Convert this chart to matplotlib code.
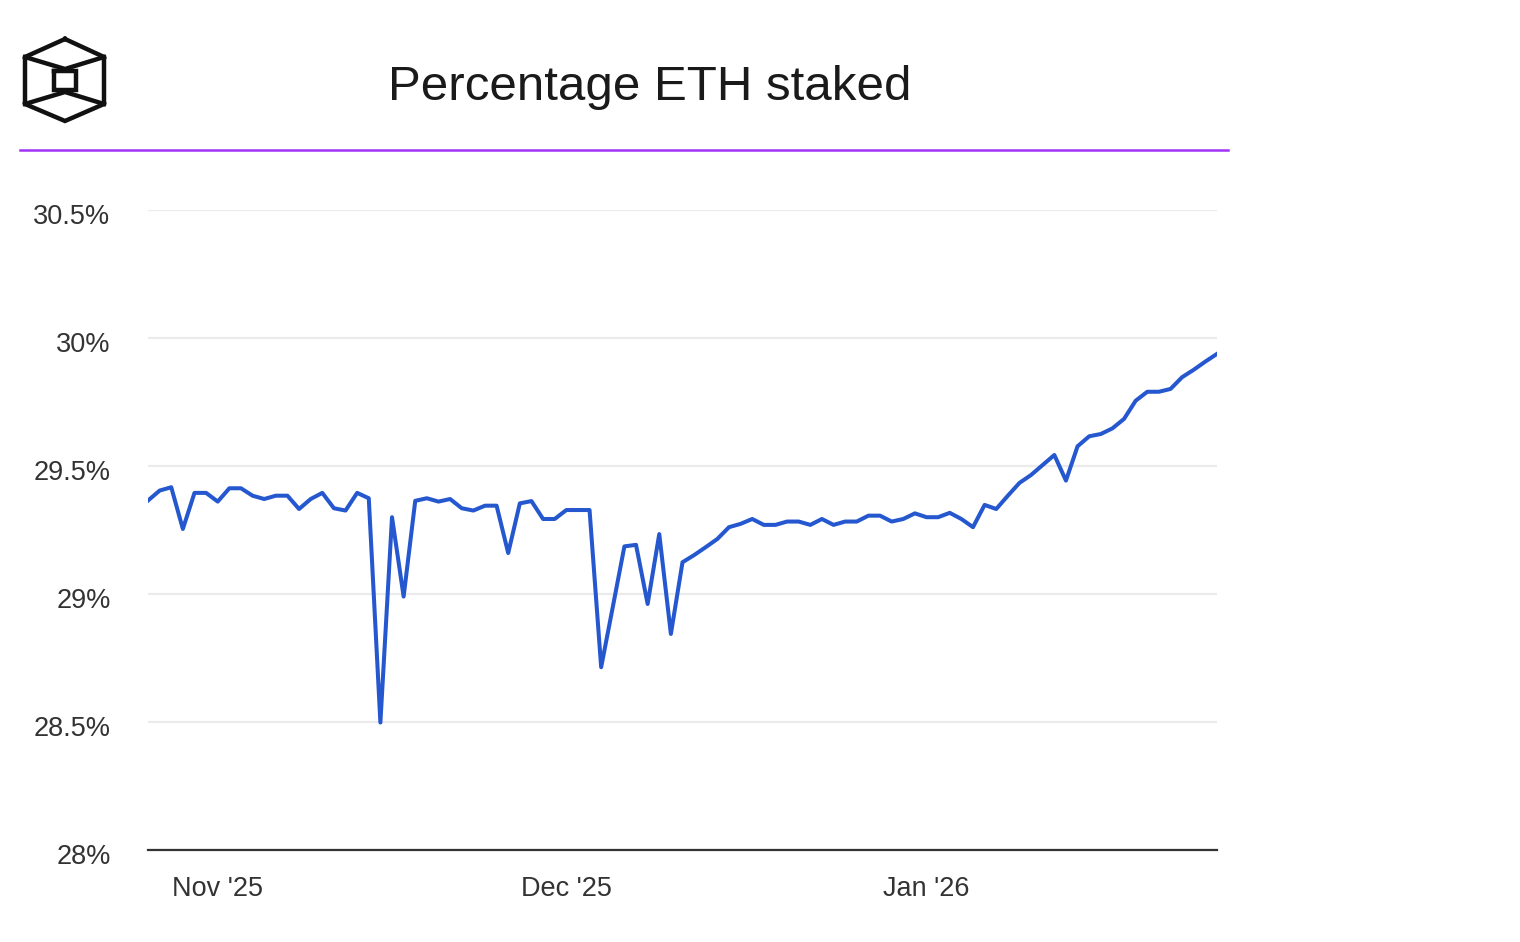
import pandas as pd
import matplotlib.pyplot as plt
import matplotlib.dates as mdates
from matplotlib.lines import Line2D
from matplotlib.ticker import FixedLocator, FuncFormatter
from matplotlib.transforms import ScaledTranslation

plt.rcParams['font.family'] = ['Liberation Sans', 'DejaVu Sans']

# daily series, Oct 26 2025 .. Jan 26 2026
dates = pd.date_range('2025-10-26', '2026-01-26', freq='D')
pct_staked = [
    29.365, 29.404, 29.417, 29.254, 29.395, 29.395, 29.361, 29.413, 29.413, 29.384,
    29.371, 29.384, 29.384, 29.332, 29.371, 29.395, 29.335, 29.326, 29.395, 29.374,
    28.498, 29.300, 28.990, 29.364, 29.374, 29.361, 29.371, 29.335, 29.326, 29.345,
    29.345, 29.160, 29.354, 29.363, 29.293, 29.293, 29.328, 29.328, 29.328, 28.714,
    28.949, 29.186, 29.192, 28.961, 29.234, 28.844, 29.124, 29.152, 29.183, 29.215,
    29.261, 29.274, 29.293, 29.270, 29.270, 29.283, 29.283, 29.270, 29.293, 29.270,
    29.283, 29.283, 29.306, 29.306, 29.283, 29.293, 29.315, 29.300, 29.300, 29.317,
    29.293, 29.261, 29.348, 29.332, 29.384, 29.434, 29.465, 29.504, 29.543, 29.443,
    29.577, 29.616, 29.625, 29.647, 29.684, 29.755, 29.790, 29.790, 29.801, 29.847,
    29.876, 29.908, 29.938,
]
y_ticks = [28.0, 28.5, 29.0, 29.5, 30.0, 30.5]
x_ticks = ['2025-11-01', '2025-12-01', '2026-01-01']

fig = plt.figure(figsize=(15.2, 9.42), dpi=100)
ax = fig.add_axes([148 / 1520, 1 - 850 / 942, (1217 - 148) / 1520, (850 - 210) / 942])

ax.plot(dates, pct_staked, color='#2557cf', lw=2.9, solid_joinstyle='round', zorder=3)

ax.set_xlim(dates[0], dates[-1])
ax.set_ylim(28, 30.5)
ax.yaxis.set_major_locator(FixedLocator(y_ticks))
ax.yaxis.set_major_formatter(FuncFormatter(lambda v, p: f'{v:g}%'))
ax.set_xticks(pd.to_datetime(x_ticks))
ax.xaxis.set_major_formatter(mdates.DateFormatter("%b '%y"))

ax.tick_params(axis='both', length=0, labelsize=19.5, colors='#333333')
ax.tick_params(axis='y', pad=27)
ax.tick_params(axis='x', pad=19)
for lab in ax.get_yticklabels():
    lab.set_transform(lab.get_transform() + ScaledTranslation(0, -0.04, fig.dpi_scale_trans))

ax.grid(axis='y', color='#ebebeb', lw=1.6)
ax.set_axisbelow(True)
for s in ['top', 'right', 'left']:
    ax.spines[s].set_visible(False)
ax.spines['bottom'].set_color('#333333')
ax.spines['bottom'].set_linewidth(1.6)
ax.spines['bottom'].set_zorder(4)

# title + purple rule
fig.text(650 / 1520, 1 - 87 / 942, 'Percentage ETH staked', ha='center', va='center',
         fontsize=35.5, color='#1a1a1a')
fig.add_artist(Line2D([20 / 1520, 1228 / 1520], [1 - 150 / 942] * 2, color='#a033f5', lw=1.8))

# logo (cube in hexagon), pixel coords
def px(x, y):
    return x / 1520, 1 - y / 942

logo = [
    [(65, 39), (104, 57), (104, 104), (65, 121), (25, 104), (25, 57), (65, 39)],
    [(25, 57), (65, 69), (104, 57)],
    [(25, 104), (65, 92), (104, 104)],
    [(54, 71), (76, 71), (76, 90), (54, 90), (54, 71)],
]
for seg in logo:
    xs, ys = zip(*[px(a, b) for a, b in seg])
    fig.add_artist(Line2D(xs, ys, color='#111111', lw=3.2, solid_joinstyle='miter'))

fig.savefig('out.png', dpi=100, facecolor='white')
